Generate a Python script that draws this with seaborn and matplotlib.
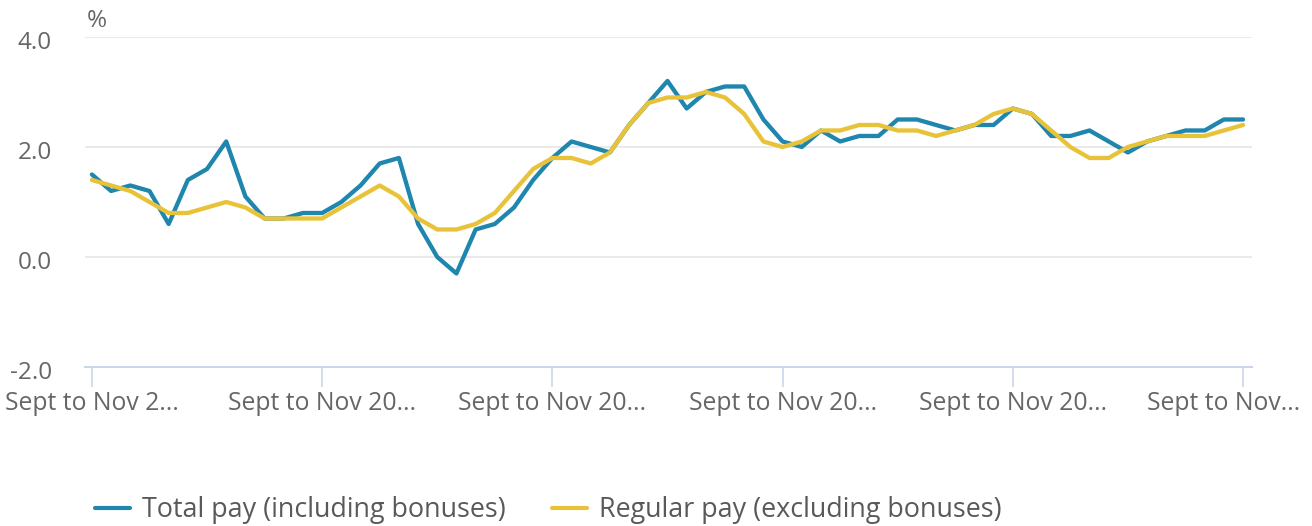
import numpy as np
import pandas as pd
import matplotlib
matplotlib.use('Agg')
import matplotlib.pyplot as plt
import matplotlib.transforms as mtransforms
import seaborn as sns

# monthly periods, one point per rolling three-month period
total_pay = [1.5, 1.2, 1.3, 1.2, 0.6, 1.4, 1.6, 2.1, 1.1, 0.7, 0.7, 0.8, 0.8, 1.0, 1.3, 1.7, 1.8, 0.6, 0.0, -0.3, 0.5,
             0.6, 0.9, 1.4, 1.8, 2.1, 2.0, 1.9, 2.4, 2.8, 3.2, 2.7, 3.0, 3.1, 3.1, 2.5, 2.1, 2.0, 2.3, 2.1,
             2.2, 2.2, 2.5, 2.5, 2.4, 2.3, 2.4, 2.4, 2.7, 2.6, 2.2, 2.2, 2.3, 2.1, 1.9, 2.1, 2.2, 2.3, 2.3, 2.5, 2.5]
regular_pay = [1.4, 1.3, 1.2, 1.0, 0.8, 0.8, 0.9, 1.0, 0.9, 0.7, 0.7, 0.7, 0.7, 0.9, 1.1, 1.3, 1.1, 0.7, 0.5, 0.5, 0.6,
               0.8, 1.2, 1.6, 1.8, 1.8, 1.7, 1.9, 2.4, 2.8, 2.9, 2.9, 3.0, 2.9, 2.6, 2.1, 2.0, 2.1, 2.3, 2.3,
               2.4, 2.4, 2.3, 2.3, 2.2, 2.3, 2.4, 2.6, 2.7, 2.6, 2.3, 2.0, 1.8, 1.8, 2.0, 2.1, 2.2, 2.2, 2.2, 2.3, 2.4]
period = list(range(len(total_pay)))
tick_pos = [0, 12, 24, 36, 48, 60]
tick_labels = ['Sept to Nov 2...', 'Sept to Nov 20...', 'Sept to Nov 20...',
               'Sept to Nov 20...', 'Sept to Nov 20...', 'Sept to Nov...']
y_ticks = [-2.0, 0.0, 2.0, 4.0]

series_names = ['Total pay (including bonuses)', 'Regular pay (excluding bonuses)']
colors = ['#1f86ad', '#e8c33a']
df = pd.DataFrame({'period': period * 2,
                   'value': total_pay + regular_pay,
                   'series': [series_names[0]] * len(period) + [series_names[1]] * len(period)})

sns.set_style('white')
plt.rcParams['font.family'] = ['Open Sans', 'DejaVu Sans']

fig = plt.figure(figsize=(13.12, 5.26), dpi=100)
ax = fig.add_axes([0.0648, 0.3023, 0.8895, 0.6274])

sns.lineplot(x='period', y='value', hue='series', data=df, ax=ax,
             palette=colors, linewidth=3.1, legend=False)

ax.set_xlim(-0.36, 60.47)
ax.set_ylim(-2.0, 4.0)
ax.set_yticks(y_ticks)
ax.set_yticklabels([f'{v:.1f}' for v in y_ticks], fontsize=17.5, color='#666666')
ax.set_xticks(tick_pos)
ax.set_xticklabels(tick_labels, fontsize=17.8, color='#666666')
ax.tick_params(axis='y', left=False, length=0, pad=24)
ax.tick_params(axis='x', bottom=True, length=14.4, width=1.2, color='#ccd6eb', pad=3, direction='out')

# y labels sit a little below their grid lines
down = mtransforms.ScaledTranslation(0, -3 / 100, fig.dpi_scale_trans)
for lab in ax.get_yticklabels():
    lab.set_horizontalalignment('right')
    lab.set_transform(lab.get_transform() + down)
# last x label is pulled back inside the figure
xl = ax.get_xticklabels()
left_shift = mtransforms.ScaledTranslation(-19 / 100, 0, fig.dpi_scale_trans)
xl[-1].set_transform(xl[-1].get_transform() + left_shift)

ax.grid(axis='y', color='#e6e6e6', linewidth=1.2)
ax.set_axisbelow(True)
for side in ['top', 'right', 'left']:
    ax.spines[side].set_visible(False)
ax.spines['bottom'].set_color('#ccd6eb')
ax.spines['bottom'].set_linewidth(1.5)
ax.set_xlabel('')
ax.set_ylabel('')

fig.text(87 / 1312, 1 - 21 / 526, '%', fontsize=17.5, color='#666666', ha='left', va='center')

handles = [plt.Line2D([], [], color=colors[0], linewidth=3),
           plt.Line2D([], [], color=colors[1], linewidth=3)]
fig.legend(handles, series_names, loc='center left', bbox_to_anchor=(95 / 1312, 1 - 510 / 526),
           ncol=2, frameon=False, fontsize=19.4, handlelength=1.3, handletextpad=0.45,
           columnspacing=1.7, borderpad=0, borderaxespad=0, labelcolor='#595959')

fig.savefig('out.png', dpi=100)
